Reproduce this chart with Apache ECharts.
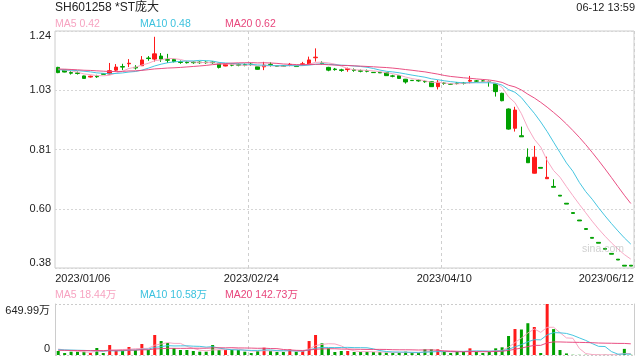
<!DOCTYPE html>
<html><head><meta charset="utf-8">
<script src="https://cdn.jsdelivr.net/npm/echarts@6/dist/echarts.min.js"></script>
<style>html,body{margin:0;padding:0;background:#fff}#c{width:640px;height:360px}</style>
</head><body><div id="c"></div>
<script>
// ---------- data ----------
const titleText = 'SH601258 *ST庞大';
const timeText = '06-12 13:59';
const priceLegend = ['MA5 0.42', 'MA10 0.48', 'MA20 0.62'];
const volLegend = ['MA5 18.44万', 'MA10 10.58万', 'MA20 142.73万'];
const watermark = 'sina.com';

const dates = [
 '2023/01/06','2023/01/09','2023/01/10','2023/01/11','2023/01/12','2023/01/13','2023/01/16','2023/01/17','2023/01/18','2023/01/19',
 '2023/01/20','2023/01/30','2023/01/31','2023/02/01','2023/02/02','2023/02/03','2023/02/06','2023/02/07','2023/02/08','2023/02/09',
 '2023/02/10','2023/02/13','2023/02/14','2023/02/15','2023/02/16','2023/02/17','2023/02/20','2023/02/21','2023/02/22','2023/02/23',
 '2023/02/24','2023/02/27','2023/02/28','2023/03/01','2023/03/02','2023/03/03','2023/03/06','2023/03/07','2023/03/08','2023/03/09',
 '2023/03/10','2023/03/13','2023/03/14','2023/03/15','2023/03/16','2023/03/17','2023/03/20','2023/03/21','2023/03/22','2023/03/23',
 '2023/03/24','2023/03/27','2023/03/28','2023/03/29','2023/03/30','2023/03/31','2023/04/03','2023/04/04','2023/04/06','2023/04/07',
 '2023/04/10','2023/04/11','2023/04/12','2023/04/13','2023/04/14','2023/04/17','2023/04/18','2023/04/19','2023/04/20','2023/04/21',
 '2023/04/24','2023/04/25','2023/04/26','2023/04/27','2023/04/28','2023/05/23','2023/05/24','2023/05/25','2023/05/26','2023/05/29',
 '2023/05/30','2023/05/31','2023/06/01','2023/06/02','2023/06/05','2023/06/06','2023/06/07','2023/06/08','2023/06/09','2023/06/12'
];
const xLabelIdx = [0, 30, 60, 89];

const opens = [
 1.108,1.098,1.089,1.088,1.077,1.073,1.076,1.085,1.084,1.098,
 1.111,1.121,1.108,1.114,1.142,1.138,1.149,1.136,1.137,1.128,
 1.127,1.127,1.127,1.127,1.127,1.123,1.113,1.118,1.118,1.118,
 1.120,1.110,1.110,1.119,1.114,1.114,1.117,1.115,1.118,1.120,
 1.143,1.124,1.108,1.102,1.099,1.100,1.099,1.096,1.096,1.090,
 1.090,1.089,1.077,1.078,1.065,1.061,1.061,1.057,1.056,1.038,
 1.051,1.048,1.051,1.051,1.058,1.059,1.059,1.057,1.048,1.014,
 0.957,0.887,0.860,0.782,0.724,0.745,0.704,0.676,0.644,0.615,
 0.581,0.554,0.523,0.491,0.473,0.451,0.433,0.412,0.390,0.390
];
const closes = [
 1.089,1.091,1.087,1.086,1.068,1.076,1.074,1.083,1.096,1.109,
 1.109,1.123,1.106,1.135,1.140,1.157,1.138,1.134,1.129,1.126,
 1.125,1.125,1.125,1.125,1.125,1.108,1.119,1.116,1.116,1.116,
 1.118,1.101,1.116,1.118,1.112,1.112,1.119,1.111,1.121,1.135,
 1.145,1.122,1.098,1.100,1.097,1.103,1.097,1.094,1.094,1.089,
 1.088,1.078,1.076,1.068,1.055,1.060,1.059,1.056,1.038,1.054,
 1.050,1.047,1.050,1.050,1.061,1.058,1.058,1.056,1.020,0.987,
 0.884,0.953,0.856,0.762,0.782,0.742,0.709,0.673,0.641,0.612,
 0.578,0.551,0.520,0.488,0.470,0.448,0.430,0.409,0.387,0.387
];
const lows = [
 1.087,1.090,1.082,1.082,1.067,1.071,1.070,1.083,1.083,1.095,
 1.098,1.109,1.100,1.113,1.132,1.129,1.128,1.124,1.126,1.121,
 1.122,1.121,1.121,1.121,1.121,1.104,1.112,1.112,1.112,1.112,
 1.114,1.100,1.098,1.111,1.111,1.111,1.112,1.110,1.114,1.119,
 1.129,1.118,1.094,1.096,1.092,1.092,1.092,1.090,1.090,1.088,
 1.088,1.077,1.072,1.067,1.049,1.059,1.056,1.052,1.037,1.028,
 1.045,1.046,1.046,1.046,1.050,1.055,1.055,1.038,1.002,0.985,
 0.882,0.875,0.856,0.761,0.723,0.742,0.704,0.673,0.641,0.612,
 0.578,0.551,0.520,0.488,0.470,0.448,0.430,0.409,0.387,0.387
];
const highs = [
 1.110,1.099,1.094,1.093,1.078,1.078,1.081,1.085,1.124,1.120,
 1.121,1.138,1.116,1.149,1.149,1.219,1.160,1.157,1.139,1.133,
 1.130,1.130,1.130,1.130,1.130,1.124,1.120,1.122,1.122,1.122,
 1.124,1.111,1.128,1.126,1.115,1.115,1.124,1.116,1.128,1.147,
 1.177,1.130,1.110,1.106,1.103,1.107,1.104,1.100,1.100,1.091,
 1.091,1.090,1.081,1.079,1.066,1.062,1.064,1.061,1.057,1.062,
 1.055,1.049,1.055,1.055,1.077,1.062,1.062,1.060,1.049,1.016,
 0.959,0.965,0.893,0.814,0.823,0.745,0.784,0.702,0.644,0.615,
 0.581,0.554,0.523,0.491,0.473,0.451,0.433,0.412,0.390,0.390
];
// closes of the 19 sessions before the window (for moving averages)
const priorCloses = [1.10,1.11,1.11,1.10,1.09,1.10,1.11,1.12,1.11,1.10,1.09,1.10,1.10,1.09,1.10,1.11,1.10,1.11,1.10];

// volume in 万 shares
const volumes = [
 51,25,42,42,42,25,89,25,127,55,
 55,102,64,140,64,255,178,153,89,64,
 64,51,42,42,127,64,64,64,64,42,
 25,51,93,51,38,38,72,42,51,178,
 255,149,85,38,51,51,38,38,38,38,
 38,30,25,30,42,25,25,72,72,72,
 42,25,42,42,85,42,25,42,85,98,
 242,331,325,405,357,25,649.99,330,64,20,
 3.1,2.5,2.8,2.6,2.6,3.5,3.2,4.3,78,3.2
];
const priorVolumes = [45,60,50,55,48,52,58,50,54,48,62,55,70,58,55,90,75,88,76];

const yMin = 0.38, yMax = 1.24, yStep = 0.215;
const yTickLabels = ['0.38','0.60','0.81','1.03','1.24'];
const volMax = 649.99;
const volTickLabels = ['0','649.99万'];

// ---------- styles ----------
const FONT = 'Arial, "Liberation Sans", "Noto Sans CJK SC", sans-serif';
const UP = '#ff1a1a', DOWN = '#00a000';
const C5 = '#f7a3c1', C10 = '#3cc2de', C20 = '#e8467c';
const TXT = '#222';

function ma(prior, arr, n) {
  const all = prior.concat(arr), off = prior.length;
  return arr.map((_, i) => {
    let s = 0;
    for (let k = 0; k < n; k++) s += all[off + i - k];
    return +(s / n).toFixed(4);
  });
}
const candle = opens.map((o, i) => [o, closes[i], lows[i], highs[i]]);
const isUp = opens.map((o, i) => closes[i] > o || (closes[i] === o && i > 0 && closes[i] >= closes[i - 1]));
const volData = volumes.map((v, i) => ({ value: v, itemStyle: { color: isUp[i] ? UP : DOWN } }));

const chart = echarts.init(document.getElementById('c'), null, { renderer: 'canvas' });
const lineS = (name, data, color, xi, yi) => ({
  name, type: 'line', data, xAxisIndex: xi, yAxisIndex: yi, symbol: 'none', smooth: false,
  lineStyle: { width: 1, color, opacity: 0.95 }, itemStyle: { color }, silent: true, z: 3
});
const catAxis = (gi, labels) => ({
  type: 'category', gridIndex: gi, data: dates, boundaryGap: true,
  axisLine: { show: false }, axisTick: { show: false },
  splitLine: { show: true, interval: (i) => i === 30 || i === 60, lineStyle: { type: [3, 3], color: '#cfcfcf', width: 1 } },
  axisLabel: labels ? {
    show: true, interval: (i) => xLabelIdx.includes(i), margin: 5,
    fontSize: 11, fontFamily: FONT, color: TXT,
    formatter: (v, i) => i === 0 ? '{l|' + v + '}' : (i === dates.length - 1 ? '{r|' + v + '}' : v),
    rich: {
      l: { padding: [0, 0, 0, 49], fontSize: 11, fontFamily: FONT, color: TXT },
      r: { padding: [0, 49, 0, 0], fontSize: 11, fontFamily: FONT, color: TXT }
    }
  } : { show: false }
});

const legendGraphic = (arr, y) => arr.map((t, k) => ({
  type: 'text', x: 55 + 85 * k, y,
  style: { text: t, fill: [C5, C10, C20][k], fontSize: 10.5, fontFamily: FONT, verticalAlign: 'middle', align: 'left' }
}));

chart.setOption({
  animation: false,
  backgroundColor: '#fff',
  grid: [
    { left: 55, right: 6, top: 31, height: 237, show: true, borderColor: '#cccccc', borderWidth: 1, outerBoundsMode: 'none' },
    { left: 55, right: 6, top: 304, height: 51, show: false, outerBoundsMode: 'none' }
  ],
  xAxis: [catAxis(0, true), catAxis(1, false)],
  yAxis: [
    {
      type: 'value', gridIndex: 0, min: yMin, max: yMax, interval: yStep,
      axisLine: { show: false }, axisTick: { show: false },
      splitLine: { show: true, lineStyle: { type: [2, 2], color: '#d6d6d6' } },
      axisLabel: {
        margin: 4, fontSize: 11, fontFamily: FONT, color: TXT,
        formatter: (v) => {
          const k = Math.round((v - yMin) / yStep);
          const t = yTickLabels[k];
          return k === 0 ? '{b|' + t + '}' : (k === yTickLabels.length - 1 ? '{t|' + t + '}' : t);
        },
        rich: {
          t: { padding: [9, 0, 0, 0], fontSize: 11, fontFamily: FONT, color: TXT },
          b: { padding: [0, 0, 11, 0], fontSize: 11, fontFamily: FONT, color: TXT }
        }
      }
    },
    {
      type: 'value', gridIndex: 1, min: 0, max: volMax, interval: volMax,
      axisLine: { show: true, lineStyle: { color: '#cccccc' } }, axisTick: { show: false },
      splitLine: { show: true, lineStyle: { type: [2, 2], color: '#cccccc' } },
      axisLabel: {
        margin: 5, fontSize: 11, fontFamily: FONT, color: TXT,
        formatter: (v) => v < 1 ? '{b|' + volTickLabels[0] + '}' : '{t|' + volTickLabels[1] + '}',
        rich: {
          t: { padding: [14, 0, 0, 0], fontSize: 11, fontFamily: FONT, color: TXT },
          b: { padding: [0, 0, 13, 0], fontSize: 11, fontFamily: FONT, color: TXT }
        }
      }
    },
    {
      type: 'value', gridIndex: 1, position: 'right', min: 0, max: volMax,
      axisLine: { show: true, lineStyle: { color: '#cccccc' } }, axisTick: { show: false },
      axisLabel: { show: false }, splitLine: { show: false }
    }
  ],
  series: [
    {
      name: 'K', type: 'candlestick', data: candle, xAxisIndex: 0, yAxisIndex: 0, barWidth: 4,
      itemStyle: { color: UP, color0: DOWN, borderColor: UP, borderColor0: DOWN, borderColorDoji: DOWN, borderWidth: 1 },
      silent: true, z: 2
    },
    lineS('MA5', ma(priorCloses, closes, 5), C5, 0, 0),
    lineS('MA10', ma(priorCloses, closes, 10), C10, 0, 0),
    lineS('MA20', ma(priorCloses, closes, 20), C20, 0, 0),
    {
      name: 'VOL', type: 'bar', data: volData, xAxisIndex: 1, yAxisIndex: 1, barWidth: 3, silent: true, z: 2
    },
    lineS('VMA5', ma(priorVolumes, volumes, 5), C5, 1, 1),
    lineS('VMA10', ma(priorVolumes, volumes, 10), C10, 1, 1),
    lineS('VMA20', ma(priorVolumes, volumes, 20), C20, 1, 1)
  ],
  graphic: [
    { type: 'text', x: 55, y: 8, style: { text: titleText, fill: TXT, fontSize: 12, fontFamily: FONT, verticalAlign: 'middle', align: 'left' } },
    { type: 'text', x: 635, y: 8, style: { text: timeText, fill: TXT, fontSize: 11, fontFamily: FONT, verticalAlign: 'middle', align: 'right' } },
    ...legendGraphic(priceLegend, 24),
    ...legendGraphic(volLegend, 295),
    { type: 'text', x: 603, y: 249, z: 10, style: { text: watermark, fill: 'rgba(170,170,170,0.55)', fontSize: 10.5, fontFamily: FONT, verticalAlign: 'middle', align: 'center' } }
  ]
});
</script>
</body></html>
